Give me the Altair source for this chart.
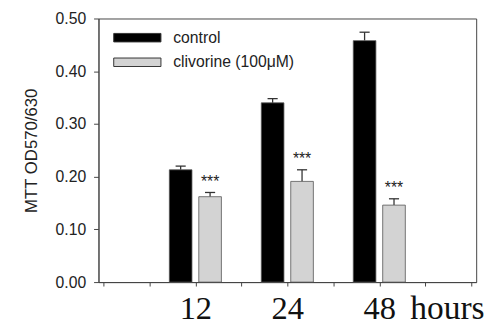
import altair as alt
import pandas as pd

# ---- data ----
hours = ["12", "24", "48"]
slots = [2, 4, 6]                      # slot of each group on the 0..8 x axis
series = ["control", "clivorine (100μM)"]
control = [0.213, 0.340, 0.458]
control_err = [0.007, 0.008, 0.016]
clivorine = [0.162, 0.191, 0.146]
clivorine_err = [0.008, 0.022, 0.012]
stars = ["***", "***", "***"]
y_ticks = [0.0, 0.1, 0.2, 0.3, 0.4, 0.5]
x_ticks = [0, 1, 2, 3, 4, 5, 6, 7, 8]

# group offsets (layout, in slot units)
offset = {series[0]: -0.32, series[1]: 0.32}

rows = []
for i, h in enumerate(hours):
    rows.append(dict(hours=h, series=series[0], pos=slots[i] + offset[series[0]],
                     value=control[i], err=control_err[i], star=""))
    rows.append(dict(hours=h, series=series[1], pos=slots[i] + offset[series[1]],
                     value=clivorine[i], err=clivorine_err[i], star=stars[i]))
df = pd.DataFrame(rows)

label_expr = " : ".join(
    f"datum.value == {s} ? '{h}'" for s, h in zip(slots, hours)
) + " : ''"

x_axis = alt.Axis(
    values=x_ticks, labelExpr=label_expr, title="hours",
    labelFont="Liberation Serif", labelFontSize=33, labelColor="#111",
    labelPadding=7, tickSize=4, tickColor="#444", domainColor="#444",
    labelFlush=False, labelOverlap=False, grid=False,
    titleFont="Liberation Serif", titleFontSize=34, titleFontWeight="normal",
    titleColor="#111", titleAlign="right", titleBaseline="alphabetic",
    titleX=392, titleY=37,
)
y_axis = alt.Axis(
    values=y_ticks, format=".2f", title="MTT OD570/630",
    labelFont="Liberation Sans", labelFontSize=16, labelColor="#222",
    labelPadding=8, tickSize=5, tickColor="#444", domainColor="#444", grid=False,
    titleFont="Liberation Sans", titleFontSize=17, titleFontWeight="normal",
    titleColor="#222", titleX=-68, titleY=134, titleBaseline="middle",
    titleAlign="center", titleAngle=270,
)
x_scale = alt.Scale(domain=[0, 8], nice=False, zero=False)
y_scale = alt.Scale(domain=[0, 0.5], nice=False)

base = alt.Chart(df).transform_calculate(
    top="datum.value + datum.err",
    capL="datum.pos - 0.11",
    capR="datum.pos + 0.11",
)

bars = base.mark_bar(width=23, stroke="#555", strokeWidth=0.8).encode(
    x=alt.X("pos:Q", scale=x_scale, axis=x_axis),
    y=alt.Y("value:Q", scale=y_scale, axis=y_axis),
    color=alt.Color(
        "series:N",
        scale=alt.Scale(domain=series, range=["#000000", "#d3d3d3"]),
        legend=alt.Legend(
            title=None, orient="none", legendX=27, legendY=7,
            symbolType="M-2,-0.36H2V0.36H-2Z", symbolSize=576,
            symbolStrokeColor="#333", symbolStrokeWidth=1,
            labelFont="Liberation Sans", labelFontSize=16, labelColor="#222",
            labelOffset=24, rowPadding=4, padding=0,
        ),
    ),
)

err = base.mark_rule(color="#333", strokeWidth=1.3).encode(
    x=alt.X("pos:Q", scale=x_scale, axis=x_axis),
    y=alt.Y("value:Q", scale=y_scale, axis=y_axis),
    y2="top:Q",
)

caps = base.mark_rule(color="#333", strokeWidth=1.3).encode(
    x=alt.X("capL:Q", scale=x_scale, axis=x_axis),
    x2="capR:Q",
    y=alt.Y("top:Q", scale=y_scale, axis=y_axis),
)

star_text = base.transform_filter(alt.datum.star != "").mark_text(
    font="Liberation Sans", fontSize=16, color="#222",
    baseline="alphabetic", align="center", dy=-6,
).encode(
    x=alt.X("pos:Q", scale=x_scale, axis=x_axis),
    y=alt.Y("top:Q", scale=y_scale, axis=y_axis),
    text="star:N",
)

chart = alt.layer(err, caps, bars, star_text).properties(
    width=384, height=268,
    autosize=alt.AutoSizeParams(type="none"),
    padding={"left": 92, "top": 8, "right": 11, "bottom": 44},
).configure_view(stroke="#444", strokeWidth=1)

chart.save("out.html", embed_options={"renderer": "svg", "actions": False})
